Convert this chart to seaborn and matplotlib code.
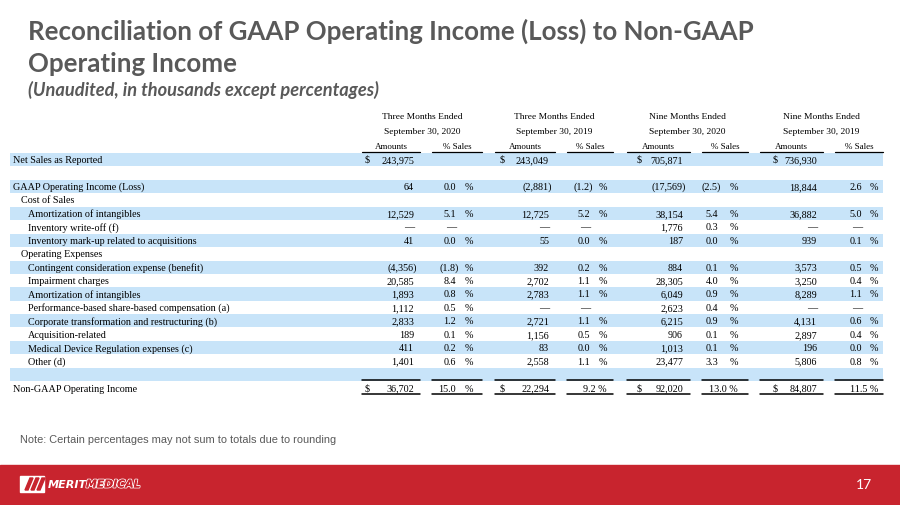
import numpy as np
import pandas as pd
import matplotlib
matplotlib.use('Agg')
import matplotlib.pyplot as plt
import matplotlib.patheffects as pe
from matplotlib.patches import Rectangle, Polygon
import seaborn as sns

# table content
DASH = np.nan  # shown as an em dash

row_labels = [
    'Net Sales as Reported', '', 'GAAP Operating Income (Loss)', 'Cost of Sales',
    'Amortization of intangibles', 'Inventory write-off (f)',
    'Inventory mark-up related to acquisitions', 'Operating Expenses',
    'Contingent consideration expense (benefit)', 'Impairment charges',
    'Amortization of intangibles', 'Performance-based share-based compensation (a)',
    'Corporate transformation and restructuring (b)', 'Acquisition-related',
    'Medical Device Regulation expenses (c)', 'Other (d)', '', 'Non-GAAP Operating Income',
]
row_indent = [0, 0, 0, 1, 2, 2, 2, 1, 2, 2, 2, 2, 2, 2, 2, 2, 0, 0]
row_shaded = [1, 0, 1, 0, 1, 0, 1, 0, 1, 0, 1, 0, 1, 0, 1, 0, 1, 0]
dollar_rows = [0, 17]
total_row = 17

period_titles = ['Three Months Ended', 'Three Months Ended', 'Nine Months Ended', 'Nine Months Ended']
period_dates = ['September 30, 2020', 'September 30, 2019', 'September 30, 2020', 'September 30, 2019']
sub_headers = ['Amounts', '% Sales']

amt_q3_2020 = [243975, None, 64, None, 12529, DASH, 41, None, -4356, 20585, 1893, 1112, 2833, 189, 411, 1401, None, 36702]
pct_q3_2020 = [None, None, 0.0, None, 5.1, DASH, 0.0, None, -1.8, 8.4, 0.8, 0.5, 1.2, 0.1, 0.2, 0.6, None, 15.0]
amt_q3_2019 = [243049, None, -2881, None, 12725, DASH, 55, None, 392, 2702, 2783, DASH, 2721, 1156, 83, 2558, None, 22294]
pct_q3_2019 = [None, None, -1.2, None, 5.2, DASH, 0.0, None, 0.2, 1.1, 1.1, DASH, 1.1, 0.5, 0.0, 1.1, None, 9.2]
amt_9m_2020 = [705871, None, -17569, None, 38154, 1776, 187, None, 884, 28305, 6049, 2623, 6215, 906, 1013, 23477, None, 92020]
pct_9m_2020 = [None, None, -2.5, None, 5.4, 0.3, 0.0, None, 0.1, 4.0, 0.9, 0.4, 0.9, 0.1, 0.1, 3.3, None, 13.0]
amt_9m_2019 = [736930, None, 18844, None, 36882, DASH, 939, None, 3573, 3250, 8289, DASH, 4131, 2897, 196, 5806, None, 84807]
pct_9m_2019 = [None, None, 2.6, None, 5.0, DASH, 0.1, None, 0.5, 0.4, 1.1, DASH, 0.6, 0.4, 0.0, 0.8, None, 11.5]

amounts = [amt_q3_2020, amt_q3_2019, amt_9m_2020, amt_9m_2019]
percents = [pct_q3_2020, pct_q3_2019, pct_9m_2020, pct_9m_2019]

# layout (pixels on a 900x506 slide)
W, H = 900, 506
X0, BAND_W = 10, 873
ROW0_Y, ROW_STEP = 160.5, 13.45
col_dollar = [365, 500, 637, 773]
col_amt_right = [414, 549, 683, 817]
col_pct_right = [456, 590, 718, 862]
col_pct_sign = [465, 599, 730, 870]
seg_amt = [(362, 420), (495, 555), (627, 690), (760, 823)]
seg_pct = [(432, 482), (567, 613), (702, 748), (835, 883)]
label_x = [13, 21, 28]

BAND = '#C8E4F9'
GREY = '#595959'
RED = '#C8242E'
SERIF = 'Liberation Serif'
FS = 7.3

sns.set_style('white')
fig = plt.figure(figsize=(W / 100, H / 100), dpi=100)
ax = fig.add_axes([0, 0, 1, 1])

# shaded row bands
bands = pd.DataFrame({'row': range(len(row_labels)),
                      'band': [BAND_W if s else 0 for s in row_shaded]})
sns.barplot(data=bands, x='band', y='row', orient='h', color=BAND, saturation=1,
            width=0.98, errorbar=None, ax=ax, linewidth=0)
ax.set_xlim(-X0, W - X0)
ax.set_ylim((H - ROW0_Y) / ROW_STEP, -ROW0_Y / ROW_STEP)
ax.axis('off')


def ry(y_px):
    return (y_px - ROW0_Y) / ROW_STEP


def txt(x_px, row, s, ha='left', **kw):
    ax.text(x_px - X0, row, s, ha=ha, va='center', fontsize=kw.pop('fontsize', FS),
            family=SERIF, color='black', **kw)


# column headers
for k in range(4):
    mid = (seg_amt[k][0] + seg_pct[k][1]) / 2
    txt(mid, ry(117), period_titles[k], ha='center', fontsize=6.8)
    txt(mid, ry(132), period_dates[k], ha='center', fontsize=6.8)
    for seg, lab in zip((seg_amt[k], seg_pct[k]), sub_headers):
        txt((seg[0] + seg[1]) / 2, ry(147.5), lab, ha='center', fontsize=6.5)
        ax.plot([seg[0] - X0, seg[1] - X0], [ry(153.2)] * 2, color='black', lw=0.9)
        # total row rules
        ax.plot([seg[0] - X0, seg[1] - X0], [ry(381.5)] * 2, color='black', lw=1.1)
        ax.plot([seg[0] - X0, seg[1] - X0], [ry(395)] * 2, color='black', lw=1.1)

# row labels and values
for i, lab in enumerate(row_labels):
    if lab:
        txt(label_x[row_indent[i]], i, lab)
    for k in range(4):
        a = amounts[k][i]
        if a is not None:
            if i in dollar_rows:
                txt(col_dollar[k], i, '$')
            if np.isnan(a):
                txt(col_amt_right[k], i, '\u2014', ha='right')
            elif a < 0:
                txt(col_amt_right[k] + 3, i, f'({abs(a):,})', ha='right')
            else:
                txt(col_amt_right[k], i, f'{a:,}', ha='right')
        p = percents[k][i]
        if p is None:
            continue
        if np.isnan(p):
            txt(col_pct_right[k], i, '\u2014', ha='right')
        elif i == total_row and k > 0:
            txt(col_pct_sign[k] + 8, i, f'{p:.1f} %', ha='right')
        elif p < 0:
            txt(col_pct_right[k] + 3, i, f'({abs(p):.1f})', ha='right')
            txt(col_pct_sign[k], i, '%')
        else:
            txt(col_pct_right[k], i, f'{p:.1f}', ha='right')
            txt(col_pct_sign[k], i, '%')


def fx(x):
    return x / W


def fy(y):
    return 1 - y / H


fig.canvas.draw()
renderer = fig.canvas.get_renderer()


def fit(t, width_px):
    w = t.get_window_extent(renderer).width
    t.set_fontsize(t.get_fontsize() * width_px / w)


# title block
t1 = fig.text(fx(28), fy(31), 'Reconciliation of GAAP Operating Income (Loss) to Non-GAAP',
              family='Lato', fontweight='bold', color=GREY, fontsize=18, va='center')
t2 = fig.text(fx(28), fy(64), 'Operating Income',
              family='Lato', fontweight='bold', color=GREY, fontsize=18, va='center')
t3 = fig.text(fx(28), fy(90), '(Unaudited, in thousands except percentages)',
              family='Lato', fontweight='bold', style='italic', color=GREY, fontsize=11, va='center')
fit(t1, 724)
t2.set_fontsize(t1.get_fontsize())
fit(t3, 350)

note = fig.text(fx(20), fy(440), 'Note: Certain percentages may not sum to totals due to rounding',
                family='Liberation Sans', color=GREY, fontsize=8, va='center')
fit(note, 318)

# footer bar
fig.add_artist(Rectangle((0, 0), 1, 40 / H, transform=fig.transFigure, color=RED, zorder=0))
fig.add_artist(Rectangle((fx(20), fy(493)), 24 / W, 16 / H, transform=fig.transFigure,
                         color='white', zorder=1))
for s in range(3):
    x = 25 + s * 6
    fig.add_artist(Polygon([(fx(x), fy(491)), (fx(x + 3), fy(491)), (fx(x + 8), fy(479)),
                            (fx(x + 5), fy(479))], closed=True, transform=fig.transFigure,
                           color=RED, zorder=2))
fig.text(fx(48), fy(485.5), 'MERIT', family='DejaVu Sans', fontweight='heavy', style='italic',
         color='white', fontsize=8, va='center')
fig.text(fx(86), fy(485.5), 'MEDICAL', family='DejaVu Sans', fontweight='bold', style='italic',
         color=RED, fontsize=7.8, va='center',
         path_effects=[pe.withStroke(linewidth=1.3, foreground='white'), pe.Normal()])
fig.text(fx(864), fy(485), '17', family='Lato', color='white', fontsize=10,
         ha='center', va='center')

fig.savefig('out.png', dpi=100)
